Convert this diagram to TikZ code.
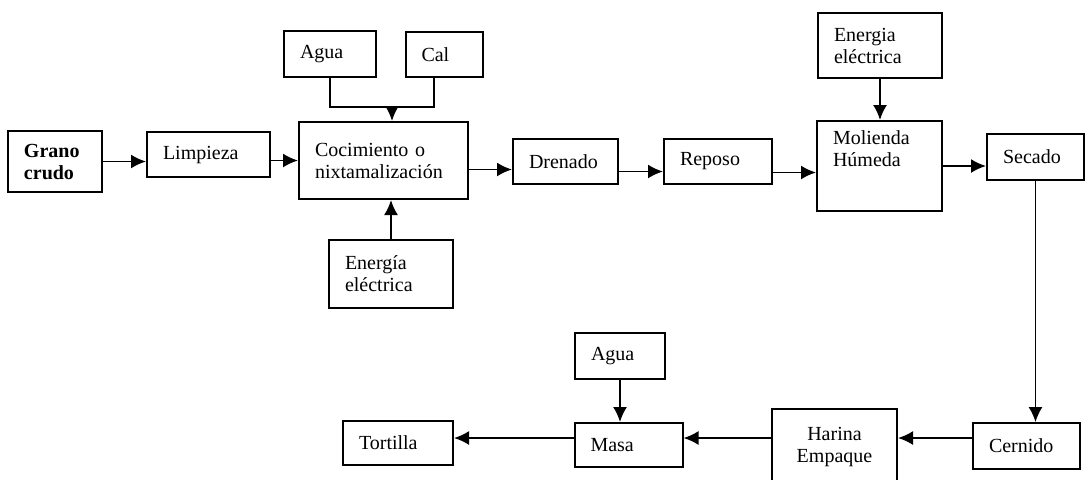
\documentclass[tikz,border=0pt]{standalone}
\usepackage{fontspec}
\setmainfont{Liberation Serif}
\usetikzlibrary{arrows.meta}
\tikzset{
  proc/.style={draw, line width=1pt, inner xsep=8pt, inner ysep=3pt, align=left,
    font=\fontsize{10}{11}\selectfont},
  flecha/.style={line width=0.95pt, -{Latex[length=7.5pt,width=7pt]}},
}

\begin{document}
\begin{tikzpicture}[x=0.5pt,y=-0.5pt]
\useasboundingbox (0,0) rectangle (1089,479);
% fila de arriba
\node[proc, line width=1.3pt, text width=31pt, minimum height=30.5pt] (grano) at (55,161.5) {\bfseries Grano\\\bfseries crudo};
\node[proc, text width=45.5pt, minimum height=22.5pt] (limpieza) at (208.5,154.5) {Limpieza};
\node[proc, text width=68.5pt, minimum height=38.5pt] (cocim) at (383.5,160.5) {Cocimiento o\\nixtamalización};
\node[proc, text width=30pt, minimum height=23pt] (agua) at (330,54) {Agua};
\node[proc, text width=22.5pt, minimum height=22.5pt] (cal) at (444,54.5) {Cal};
\node[proc, text width=46pt, minimum height=34pt] (energia) at (391,274) {Energía\\eléctrica};
\node[proc, text width=36.5pt, minimum height=22.5pt] (drenado) at (565.5,161.5) {Drenado};
\node[proc, text width=38pt, minimum height=22.5pt] (reposo) at (718,161.5) {Reposo};
\node[proc, text width=46pt, minimum height=32.5pt] (energiados) at (880,45.5) {Energia\\eléctrica};
\node[proc, anchor=north, text width=46.5pt, inner ysep=5pt, text depth=28pt] (molienda) at (879.5,120) {Molienda\\Húmeda};
\node[proc, text width=32.5pt, minimum height=23pt] (secado) at (1035.5,157) {Secado};
% fila de abajo
\node[proc, text width=37.5pt, minimum height=23pt] (cernido) at (1026.5,446) {Cernido};
\node[proc, align=center, text width=46.5pt, minimum height=38pt] (harina) at (834.5,447) {Harina\\Empaque};
\node[proc, text width=38pt, minimum height=22pt] (masa) at (628.5,445) {Masa};
\node[proc, text width=29pt, minimum height=23pt] (aguados) at (620,356) {Agua};
\node[proc, text width=39pt, minimum height=22pt] (tortilla) at (398,443) {Tortilla};
\coordinate (mezcla) at (392,107);
\coordinate (abajo) at (0,438);

\draw[flecha] (grano.east) -- (grano.east -| limpieza.west);
\draw[flecha] (limpieza.east |- cocim) -- (cocim.west);
\draw[line width=0.95pt] (agua.south) |- (mezcla) -| ([xshift=-5pt]cal.south);
\draw[flecha] (mezcla) -- (mezcla |- cocim.north);
\draw[flecha] (energia.north) -- (energia.north |- cocim.south);
\draw[flecha] ([yshift=-4.5pt]cocim.east) -- ([yshift=-4.5pt]cocim.east -| drenado.west);
\draw[flecha] ([yshift=-5pt]drenado.east) -- ([yshift=-5pt]reposo.west);
\draw[flecha] ([yshift=-5.5pt]reposo.east) -- ([yshift=-5.5pt]reposo.east -| molienda.west);
\draw[flecha] (energiados.south) -- (energiados.south |- molienda.north);
\draw[flecha] ([yshift=-4.5pt]secado.west -| molienda.east) -- ([yshift=-4.5pt]secado.west);
\draw[flecha, line width=0.75pt] (secado.south) -- (secado.south |- cernido.north);
\draw[flecha] (cernido.west |- abajo) -- (abajo -| harina.east);
\draw[flecha] (harina.west |- abajo) -- (abajo -| masa.east);
\draw[flecha] (aguados.south) -- (aguados.south |- masa.north);
\draw[flecha] (masa.west |- abajo) -- (abajo -| tortilla.east);
\end{tikzpicture}
\end{document}
